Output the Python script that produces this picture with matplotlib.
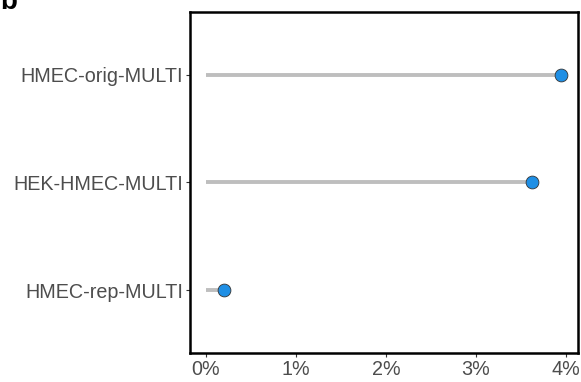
import matplotlib
matplotlib.use("Agg")
import matplotlib.pyplot as plt
from matplotlib.ticker import FuncFormatter

plt.rcParams['font.family'] = ['Liberation Sans', 'DejaVu Sans']

# lollipop values, percent
samples = ['HMEC-rep-MULTI', 'HEK-HMEC-MULTI', 'HMEC-orig-MULTI']
pct = [0.20, 3.62, 3.94]
ticks = [0, 1, 2, 3, 4]

fig = plt.figure(figsize=(5.81, 3.82), dpi=100)
ax = fig.add_axes([190/581, 29/382, 388/581, 341/382])

ypos = list(range(1, len(samples) + 1))
ax.hlines(ypos, 0, pct, color='#bebebe', linewidth=2.8, zorder=1)
ax.scatter(pct, ypos, s=85, color='#1f8fe5', edgecolor='#333333',
           linewidth=0.6, zorder=2)

ax.set_xlim(-0.178, 4.133)
ax.set_ylim(0.42, 3.58)
ax.set_yticks(ypos)
ax.set_yticklabels(samples)
ax.set_xticks(ticks)
ax.xaxis.set_major_formatter(FuncFormatter(lambda v, p: f'{v:.0f}%'))

ax.tick_params(axis='both', labelsize=14.2, labelcolor='#4d4d4d',
               color='#333333', length=3, width=0.8, pad=2)
for sp in ax.spines.values():
    sp.set_linewidth(1.8)
    sp.set_color('black')

# panel letter, clipped at the top edge
fig.text(0.0, 0.995, 'b', fontsize=20, fontweight='bold', va='center', ha='left')

fig.savefig('out.png', dpi=100)
